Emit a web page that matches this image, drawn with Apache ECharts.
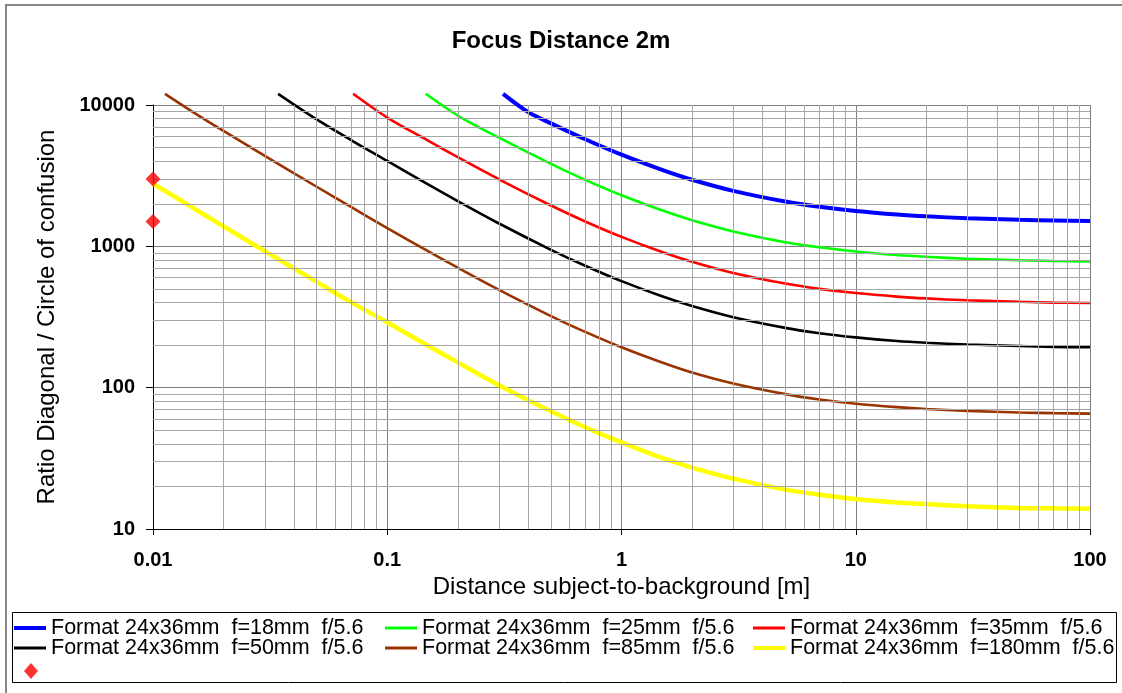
<!DOCTYPE html>
<html>
<head>
<meta charset="utf-8">
<script src="https://cdn.jsdelivr.net/npm/echarts@6/dist/echarts.min.js"></script>
<style>
html,body{margin:0;padding:0;background:#fff;}
#chart{width:1122px;height:693px;}
</style>
</head>
<body>
<div id="chart"></div>
<script>
// ---- Data ----
const chartTitle = 'Focus Distance 2m';
const xAxisTitle = 'Distance subject-to-background [m]';
const yAxisTitle = 'Ratio Diagonal / Circle of confusion';
const xTickLabels = ['0.01', '0.1', '1', '10', '100'];
const yTickLabels = ['10', '100', '1000', '10000'];

const seriesNames = [
  'Format 24x36mm  f=18mm  f/5.6',
  'Format 24x36mm  f=25mm  f/5.6',
  'Format 24x36mm  f=35mm  f/5.6',
  'Format 24x36mm  f=50mm  f/5.6',
  'Format 24x36mm  f=85mm  f/5.6',
  'Format 24x36mm  f=180mm  f/5.6'
];
const seriesColors = ['#0000ff', '#00ff00', '#ff0000', '#000000', '#993300', '#ffff00'];

const f18 = [[0.312,12000],[0.4,8900],[0.5,7410],[0.7,5720],[1,4450],[1.5,3460],[2,2960],[3,2470],[5,2075],[7,1905],[10,1780],[15,1680],[20,1630],[30,1580],[50,1540],[70,1525],[100,1510]];
const f25 = [[0.146,12000],[0.2,8425],[0.3,5870],[0.5,3830],[0.7,2955],[1,2300],[1.5,1790],[2,1530],[3,1275],[5,1070],[7,985],[10,920],[15,868],[20,843],[30,817],[50,797],[70,788],[100,781]];
const f35 = [[0.0715,12000],[0.1,8150],[0.15,5575],[0.2,4280],[0.3,2980],[0.5,1945],[0.7,1500],[1,1167],[1.5,908],[2,778],[3,648],[5,545],[7,500],[10,467],[15,441],[20,428],[30,415],[50,405],[70,400],[100,397]];
const f50 = [[0.0342,12000],[0.05,7900],[0.07,5650],[0.1,4020],[0.15,2730],[0.2,2090],[0.3,1450],[0.5,945],[0.7,729],[1,567],[1.5,441],[2,378],[3,315],[5,265],[7,243],[10,227],[15,214],[20,208],[30,202],[50,197],[70,194],[100,193]];
const f85 = [[0.01125,12000],[0.015,8800],[0.02,6550],[0.03,4370],[0.05,2640],[0.07,1900],[0.1,1345],[0.15,920],[0.2,706],[0.3,492],[0.5,321],[0.7,248],[1,193],[1.5,150],[2,128],[3,107],[5,90],[7,82.5],[10,77],[15,72.8],[20,70.6],[30,68.5],[50,66.8],[70,66],[100,65.5]];
const f180 = [[0.01,2780],[0.015,1850],[0.02,1385],[0.03,925],[0.05,560],[0.07,403],[0.1,290],[0.15,197],[0.2,151],[0.3,104],[0.5,68],[0.7,52.5],[1,41],[1.5,31.7],[2,27.2],[3,22.7],[5,19],[7,17.5],[10,16.3],[15,15.4],[20,15],[30,14.5],[50,14.1],[70,14],[100,13.9]];
const markerPoints = [[0.01,3000],[0.01,1500]];

const curveData = [f18, f25, f35, f50, f85, f180];

// minor log grid positions (2..9 within each decade)
const minorX = [];
[0.01, 0.1, 1, 10].forEach(d => { for (let m = 2; m <= 9; m++) minorX.push(+(d * m).toPrecision(3)); });
const minorY = [];
[10, 100, 1000].forEach(d => { for (let m = 2; m <= 9; m++) minorY.push(d * m); });

// ---- Chart ----
const FONT = "'Liberation Sans', Arial, sans-serif";
const widths = [4, 2.6, 2.6, 2.6, 2.6, 4.5];

const series = [{
  type: 'line', name: '__grid', data: [], z: 1, silent: true,
  markLine: {
    silent: true, symbol: 'none', animation: false,
    label: { show: false },
    lineStyle: { color: '#a6a6a6', width: 1, type: 'solid' },
    emphasis: { disabled: true },
    data: minorX.map(v => ({ xAxis: v })).concat(minorY.map(v => ({ yAxis: v })))
  }
}];
curveData.forEach((d, i) => {
  series.push({
    type: 'line', name: seriesNames[i], data: d, z: 3,
    showSymbol: false, symbol: 'none', smooth: 0.3,
    clip: false,
    lineStyle: { color: seriesColors[i], width: widths[i] },
    itemStyle: { color: seriesColors[i] }
  });
});
series.push({
  type: 'scatter', name: 'marker', data: markerPoints, z: 5, clip: false,
  symbol: 'diamond', symbolSize: [15, 15],
  itemStyle: { color: '#ff0000' }
});

// legend layout (one legend per item)
const legendPos = [
  [14, 617], [385, 617], [753, 617],
  [14, 637], [385, 637], [753, 637]
];
const legends = seriesNames.map((n, i) => ({
  data: [n], left: legendPos[i][0], top: legendPos[i][1], padding: 0,
  icon: 'rect', itemWidth: 32, itemHeight: (i === 0 || i === 5) ? 4 : 3,
  selectedMode: false,
  textStyle: { fontFamily: FONT, fontSize: 21.5, color: '#000', lineHeight: 22 }
}));
legends.push({
  data: ['marker'], left: 24, top: 663, padding: 0,
  icon: 'diamond', itemWidth: 14, itemHeight: 16, selectedMode: false,
  formatter: () => '',
  textStyle: { fontSize: 1 }
});

const option = {
  animation: false,
  backgroundColor: '#fff',
  title: {
    text: chartTitle, left: 'center', top: 29, padding: 0,
    textStyle: { fontFamily: FONT, fontSize: 24, fontWeight: 'bold', color: '#000' }
  },
  legend: legends,
  grid: { left: 153, right: 32, top: 105, bottom: 164, containLabel: false },
  xAxis: {
    type: 'log', logBase: 10, min: 0.01, max: 100,
    name: xAxisTitle, nameLocation: 'middle', nameGap: 40,
    nameTextStyle: { fontFamily: FONT, fontSize: 24, color: '#000' },
    axisLine: { show: true, onZero: false, lineStyle: { color: '#000', width: 1 } },
    axisTick: { show: true, length: 6, lineStyle: { color: '#000' } },
    axisLabel: {
      margin: 21, fontFamily: FONT, fontSize: 20, fontWeight: 'bold', color: '#000',
      formatter: v => xTickLabels[Math.round(Math.log10(v)) + 2]
    },
    splitLine: { show: true, lineStyle: { color: '#808080', width: 1 } }
  },
  yAxis: {
    type: 'log', logBase: 10, min: 10, max: 10000,
    name: yAxisTitle, nameLocation: 'middle', nameGap: 94, nameRotate: 90,
    nameTextStyle: { fontFamily: FONT, fontSize: 24, color: '#000' },
    axisLine: { show: true, onZero: false, lineStyle: { color: '#000', width: 1 } },
    axisTick: { show: true, length: 7, lineStyle: { color: '#000' } },
    axisLabel: {
      margin: 18, fontFamily: FONT, fontSize: 20, fontWeight: 'bold', color: '#000',
      formatter: v => yTickLabels[Math.round(Math.log10(v)) - 1]
    },
    splitLine: { show: true, lineStyle: { color: '#808080', width: 1 } }
  },
  graphic: [
    { type: 'rect', silent: true, z: 0,
      shape: { x: 6, y: 5, width: 1300, height: 900 },
      style: { fill: 'none', stroke: '#888', lineWidth: 2 } },
    { type: 'rect', silent: true, z: 0,
      shape: { x: 12.5, y: 612.5, width: 1104, height: 70 },
      style: { fill: 'none', stroke: '#000', lineWidth: 1 } }
  ],
  series: series
};

const chart = echarts.init(document.getElementById('chart'), null, { renderer: 'canvas' });
chart.setOption(option);
</script>
</body>
</html>
